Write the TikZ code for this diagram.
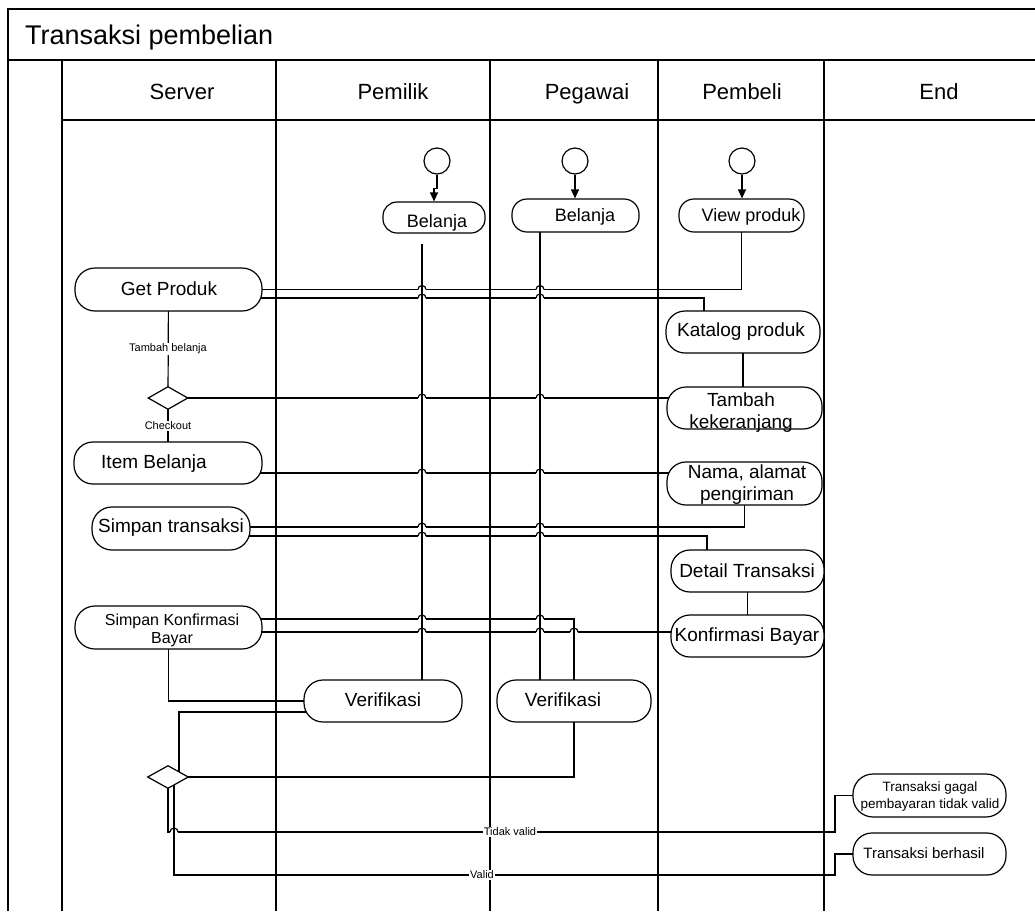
\documentclass[tikz,border=0pt]{standalone}
\usepackage{fontspec}
\setmainfont{Liberation Sans}
\usetikzlibrary{shapes.geometric,arrows.meta}
\pgfdeclarelayer{bg}
\pgfsetlayers{bg,main}
\tikzset{
  conn/.style={line width=1.2pt, black},
  lane/.style={line width=1.3pt, black},
  act/.style n args={3}{draw, line width=1.2pt, fill=white, inner sep=0pt,
    minimum width=#1pt, minimum height=#2pt, rounded corners=#3pt},
  startc/.style={circle, draw, line width=1.2pt, fill=white, inner sep=0pt, minimum size=26pt},
  dec/.style={diamond, draw, line width=1.2pt, fill=white, inner sep=0pt},
  tx/.style n args={2}{inner sep=0pt, align=center, font=\fontsize{#1}{#2}\selectfont},
  hdr/.style={inner sep=0pt, anchor=base, font=\fontsize{22}{26}\selectfont},
  elbl/.style={fill=white, inner sep=1pt, font=\fontsize{11}{13}\selectfont},
  arr/.style={conn, -{Triangle[width=8pt,length=9pt]}},
}
\newcommand\hop[2]{%
  \draw[white,line width=3pt] (#1-4,#2) -- (#1+4,#2);
  \draw[conn] (#1,#2-7) -- (#1,#2+7);
  \draw[conn] (#1-4,#2) arc[start angle=180,end angle=0,radius=4pt];
}
\begin{document}
\begin{tikzpicture}[x=1pt,y=-1pt]
\useasboundingbox (0,0) rectangle (1035,911);

% ---------- nodes ----------
\node[startc] (c1) at (437,161) {};
\node[startc] (c2) at (575,161) {};
\node[startc] (c3) at (742,161) {};

\node[act={102}{31}{14}] (bel1) at (434,217.5) {};
\node[tx={18}{21}] (bel1t) at (437,223) {Belanja};
\node[act={127}{33}{15}] (bel2) at (575.5,215.5) {};
\node[tx={18}{21}] (bel2t) at (585,217) {Belanja};
\node[act={125}{33}{15}] (view) at (741.5,215.5) {};
\node[tx={18}{21}] (viewt) at (751,217) {View produk};

\node[act={187}{43}{20}] (getp) at (168.5,289.5) {};
\node[tx={19}{22}] (getpt) at (169,289) {Get Produk};

\node[act={154}{42}{19}] (kat) at (743,332) {};
\node[tx={19}{22}] (katt) at (741,332) {Katalog produk};

\node[dec, minimum width=40pt, minimum height=23pt] (dia1) at (168,398) {};

\node[act={155}{42}{19}] (tamb) at (744.5,408) {};
\node[tx={19}{22}] (tambt) at (741,413) {Tambah\\kekeranjang};

\node[act={188}{42}{19}] (item) at (168,463) {};
\node[tx={19}{22}] (itemt) at (154,464) {Item Belanja};

\node[act={155}{43}{19}] (nama) at (744.5,483.5) {};
\node[tx={19}{22}] (namat) at (747,485) {Nama, alamat\\pengiriman};

\node[act={158}{43}{20}] (simtr) at (171,528.5) {};
\node[tx={19}{22}] (simtrt) at (171,528) {Simpan transaksi};

\node[act={153}{42}{19}] (det) at (747.5,571) {};
\node[tx={19}{22}] (dett) at (747,571) {Detail Transaksi};

\node[act={187}{43}{20}] (simkb) at (168.5,627.5) {};
\node[tx={16}{18}] (simkbt) at (172,630) {Simpan Konfirmasi\\Bayar};

\node[act={153}{42}{19}] (konf) at (747.5,636) {};
\node[tx={19}{22}] (konft) at (747,637) {Konfirmasi Bayar};

\node[act={158}{42}{19}] (verif1) at (383,701) {};
\node[tx={19}{22}] (verif1t) at (383,700) {Verifikasi};
\node[act={154}{42}{19}] (verif2) at (574,701) {};
\node[tx={19}{22}] (verif2t) at (563,700) {Verifikasi};

\node[dec, minimum width=41pt, minimum height=23pt] (dia2) at (168,777) {};

\node[act={153}{43}{20}] (gagal) at (929.5,795.5) {};
\node[tx={13.5}{17}] (gagalt) at (930,796) {Transaksi gagal\\pembayaran tidak valid};
\node[act={153}{42}{19}] (berh) at (929.5,854) {};
\node[tx={15}{18}] (berht) at (924,853) {Transaksi berhasil};

% ---------- edge labels ----------
\node[elbl] (lb1) at (168,349) {Tambah belanja};
\node[elbl] (lb2) at (168,426) {Checkout};
\node[elbl] (lb3) at (510,832) {Tidak valid};
\node[elbl] (lb4) at (482,875) {Valid};

% ---------- frame and header texts ----------
\node[inner sep=0pt, anchor=base west, font=\fontsize{27}{32}\selectfont] (title) at (25,44.5) {Transaksi pembelian};
\node[hdr] (h1) at (182,99) {Server};
\node[hdr] (h2) at (393,99) {Pemilik};
\node[hdr] (h3) at (587,99) {Pegawai};
\node[hdr] (h4) at (742,99) {Pembeli};
\node[hdr] (h5) at (939,99) {End};

\begin{pgfonlayer}{bg}
\fill[white] (0,0) rectangle (1035,911);
\draw[lane] (8,911) -- (8,9) -- (1035,9);
\draw[line width=2pt] (8,60) -- (1035,60);
\draw[lane] (62,120) -- (1035,120);
\foreach \lx in {62,276,490,658,824} \draw[lane] (\lx,60) -- (\lx,911);

% start arrows
\draw[arr] (c1.south) -- ++(0,14) -| (bel1.north);
\draw[arr] (c2.south) -- (c2.south |- bel2.north);
\draw[arr] (c3.south) -- (c3.south |- view.north);

% vertical flows
\coordinate (b1s) at (422,244);
\draw[conn] (b1s) -- (b1s |- verif1.center);
\coordinate (b2s) at (540,232);
\draw[conn] (b2s) -- (b2s |- verif2.center);

% connectors
\draw[conn] (getp.center) -| (view.center);
\draw[conn] ([yshift=-8.5pt]getp.center) -| ([xshift=-39pt]kat.center);
\draw[conn] (kat.center) -- (kat.center |- tamb.center);
\draw[conn] (getp.center) -- (dia1.center);
\draw[conn] (dia1.center) -| (tamb.center);
\draw[conn] (dia1.center) -- (item.center);
\draw[conn] ([yshift=-10pt]item.center) -| (nama.center);
\draw[conn] ([yshift=1.5pt]simtr.center) -| (nama.center);
\draw[conn] ([yshift=-7.5pt]simtr.center) -| ([xshift=-40.5pt]det.center);
\draw[conn] (det.center) -- (konf.center);
\draw[conn] ([yshift=8.5pt]simkb.center) -| (verif2.center);
\draw[conn] ([yshift=-4.5pt]simkb.center) -| (konf.center);
\draw[conn] (simkb.center) |- (verif1.center);
\draw[conn] ([yshift=-11pt]verif1.center) -| ([xshift=11pt]dia2.center);
\draw[conn] (verif2.center) |- (dia2.center);
\draw[conn] ([xshift=6pt]dia2.center) |- (835,875) |- (berh.center);
\draw[conn] (dia2.center) |- (835,832) |- (gagal.center);

% line jumps
\foreach \yy in {289.5,298,398,473,527,536,619,632} {\hop{422}{\yy}\hop{540}{\yy}}
\hop{574}{632}
\hop{174}{832}
\end{pgfonlayer}
\end{tikzpicture}
\end{document}
